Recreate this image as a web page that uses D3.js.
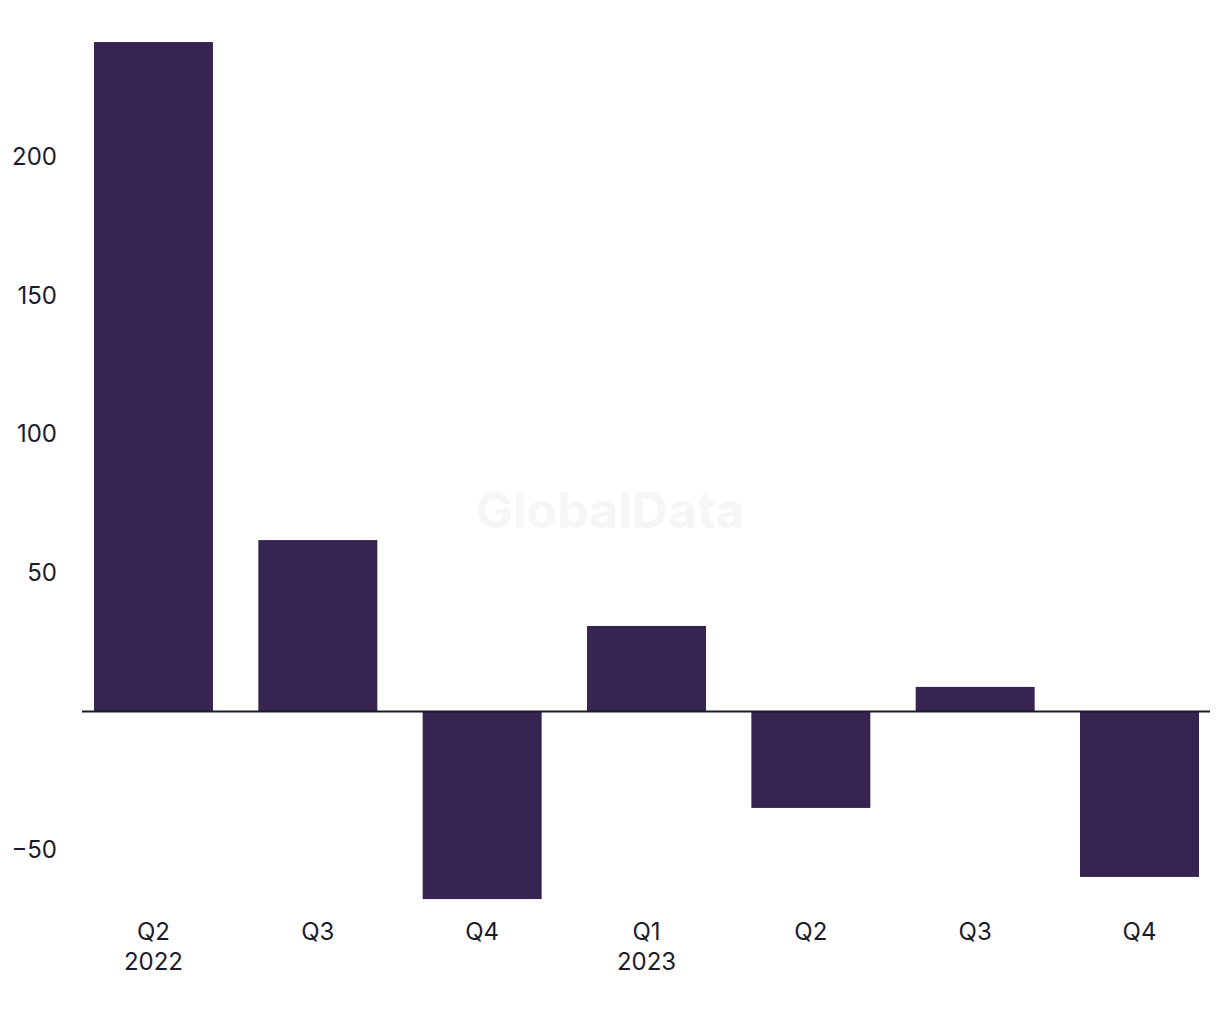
<!DOCTYPE html>
<html>
<head>
<meta charset="utf-8">
<script src="https://cdn.jsdelivr.net/npm/d3@7"></script>
<style>
  body { margin: 0; background: #fff; }
  svg text { font-family: Inter, "Liberation Sans", sans-serif; }
</style>
</head>
<body>
<div></div>
<script>
// quarters with the year shown under the first quarter of each year
var quarters = ["Q2", "Q3", "Q4", "Q1", "Q2", "Q3", "Q4"];
var years = ["2022", "", "", "2023", "", "", ""];
var values = [241.5, 61.7, -67.9, 30.7, -35, 8.7, -59.9];
var yTicks = [-50, 50, 100, 150, 200];

var width = 1220, height = 1020;
var barColor = "#362551";
var textColor = "#1b1b2c";
var fontSize = 24;

var svg = d3.select("div").append("svg")
    .attr("width", width)
    .attr("height", height);

var x = d3.scaleBand()
    .domain(d3.range(values.length))
    .range([94, 1199])
    .paddingInner(0.276)
    .paddingOuter(0);

var y = d3.scaleLinear()
    .domain([-50, 200])
    .range([849.5, 157]);

// watermark
svg.append("text")
    .attr("x", 610)
    .attr("y", 528)
    .attr("text-anchor", "middle")
    .attr("font-size", 50)
    .attr("font-weight", 700)
    .attr("fill", "#f6f6f6")
    .text("GlobalData");

svg.selectAll("rect.bar")
    .data(values)
    .enter().append("rect")
    .attr("class", "bar")
    .attr("x", function(d, i) { return x(i); })
    .attr("width", x.bandwidth())
    .attr("y", function(d) { return y(Math.max(0, d)); })
    .attr("height", function(d) { return Math.abs(y(d) - y(0)); })
    .attr("fill", barColor);

// zero line
svg.append("line")
    .attr("x1", 82).attr("x2", 1210)
    .attr("y1", y(0) + 0.5).attr("y2", y(0) + 0.5)
    .attr("stroke", textColor)
    .attr("stroke-width", 2);

// y axis labels, no line
var yAxis = svg.append("g")
    .attr("transform", "translate(57,0)")
    .call(d3.axisLeft(y).tickValues(yTicks).tickSize(0).tickPadding(0)
        .tickFormat(function(d) { return d < 0 ? "\u2212" + Math.abs(d) : d; }));
yAxis.select(".domain").remove();
yAxis.selectAll("text")
    .attr("font-size", fontSize)
    .attr("fill", textColor)
    .style("font-family", "Inter, 'Liberation Sans', sans-serif");

// x labels
var xl = svg.selectAll("g.xl")
    .data(quarters)
    .enter().append("g")
    .attr("class", "xl")
    .attr("transform", function(d, i) { return "translate(" + (x(i) + x.bandwidth() / 2) + ",0)"; });

xl.append("text")
    .attr("y", 940)
    .attr("text-anchor", "middle")
    .attr("font-size", fontSize)
    .attr("fill", textColor)
    .text(function(d) { return d; });

xl.append("text")
    .attr("y", 970)
    .attr("text-anchor", "middle")
    .attr("font-size", fontSize)
    .attr("fill", textColor)
    .text(function(d, i) { return years[i]; });
</script>
</body>
</html>
